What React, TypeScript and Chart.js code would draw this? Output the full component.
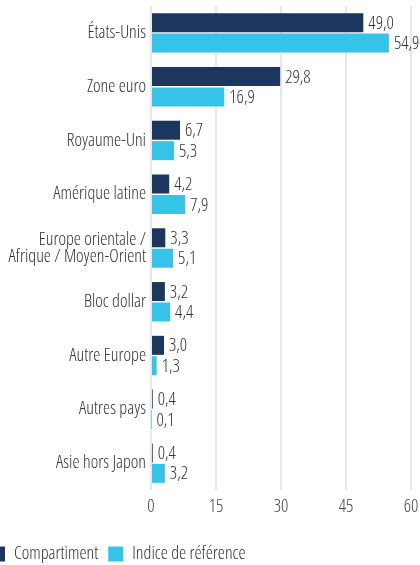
import React, { useEffect, useRef } from "react";
import { Chart, registerables } from "chart.js";

Chart.register(...registerables);

const categories: (string | string[])[] = [
  "États-Unis",
  "Zone euro",
  "Royaume-Uni",
  "Amérique latine",
  ["Europe orientale /", "Afrique / Moyen-Orient"],
  "Bloc dollar",
  "Autre Europe",
  "Autres pays",
  "Asie hors Japon",
];
const compartiment = [49.0, 29.8, 6.7, 4.2, 3.3, 3.2, 3.0, 0.4, 0.4];
const indice = [54.9, 16.9, 5.3, 7.9, 5.1, 4.4, 1.3, 0.1, 3.2];
const seriesNames = ["Compartiment", "Indice de référence"];
const xTicks = [0, 15, 30, 45, 60];

const FONT = "'Open Sans', sans-serif";
const WEIGHT = "300";
const DARK = "#1c365f";
const LIGHT = "#35c4e8";

// make every font set on this context condensed
function condenseContext(ctx: any) {
  const proto = Object.getPrototypeOf(ctx);
  const desc = Object.getOwnPropertyDescriptor(proto, "font");
  if (!desc || !desc.set || !desc.get) return;
  Object.defineProperty(ctx, "font", {
    configurable: true,
    get() {
      return desc.get!.call(this);
    },
    set(v: string) {
      desc.set!.call(this, v);
      try {
        (this as any).fontStretch = "condensed";
      } catch (e) {}
    },
  });
}

const valueLabels = {
  id: "valueLabels",
  afterDatasetsDraw(chart: any) {
    const ctx = chart.ctx;
    ctx.save();
    ctx.font = `${WEIGHT} 18px ${FONT}`;
    ctx.fillStyle = "#333333";
    ctx.textBaseline = "middle";
    ctx.textAlign = "left";
    chart.data.datasets.forEach((ds: any, i: number) => {
      const meta = chart.getDatasetMeta(i);
      meta.data.forEach((bar: any, j: number) => {
        const v = ds.data[j] as number;
        ctx.fillText(v.toFixed(1).replace(".", ","), bar.x + 5, bar.y + 1);
      });
    });
    ctx.restore();
  },
};

export default function App() {
  const ref = useRef<HTMLCanvasElement>(null);
  useEffect(() => {
    if (!ref.current) return;
    const c2d = ref.current.getContext("2d");
    if (c2d) condenseContext(c2d);
    const chart = new Chart(ref.current, {
      type: "bar",
      data: {
        labels: categories as any,
        datasets: [
          {
            label: seriesNames[0],
            data: compartiment,
            backgroundColor: DARK,
            categoryPercentage: 0.76,
            barPercentage: 0.93,
          },
          {
            label: seriesNames[1],
            data: indice,
            backgroundColor: LIGHT,
            categoryPercentage: 0.76,
            barPercentage: 0.93,
          },
        ],
      },
      options: {
        indexAxis: "y",
        animation: false,
        responsive: true,
        maintainAspectRatio: false,
        layout: { padding: { top: 6, right: 9, left: 0, bottom: 0 } },
        scales: {
          x: {
            min: 0,
            max: 60,
            afterBuildTicks(scale: any) {
              scale.ticks = xTicks.map((v) => ({ value: v }));
            },
            afterFit(scale: any) {
              scale.height = 45;
              scale.paddingLeft = 0;
              scale.paddingRight = 0;
            },
            grid: { color: "#e8e8e8", lineWidth: 2, drawTicks: false },
            border: { display: false },
            ticks: {
              padding: 6,
              color: "#444444",
              font: { family: FONT, size: 18, weight: WEIGHT as any },
            },
          },
          y: {
            afterFit(scale: any) {
              scale.width = 171;
              scale.paddingTop = 0;
              scale.paddingBottom = 0;
            },
            grid: { display: false, drawTicks: false },
            border: { display: false },
            ticks: {
              padding: 5,
              color: "#333333",
              font: { family: FONT, size: 18, weight: WEIGHT as any, lineHeight: 0.95 },
            },
          },
        },
        plugins: {
          legend: {
            position: "bottom",
            align: "start",
            labels: {
              boxWidth: 15,
              boxHeight: 15,
              padding: 10,
              color: "#333333",
              font: { family: FONT, size: 18, weight: WEIGHT as any },
            },
          },
          tooltip: { enabled: false },
        },
      },
      plugins: [valueLabels],
    });
    return () => chart.destroy();
  }, []);

  return (
    <div style={{ position: "fixed", left: 0, top: 0, width: 420, height: 565, overflow: "hidden", background: "#fff" }}>
      <div style={{ position: "absolute", left: -20, top: 0, width: 440, height: 573 }}>
        <canvas ref={ref} />
      </div>
    </div>
  );
}
